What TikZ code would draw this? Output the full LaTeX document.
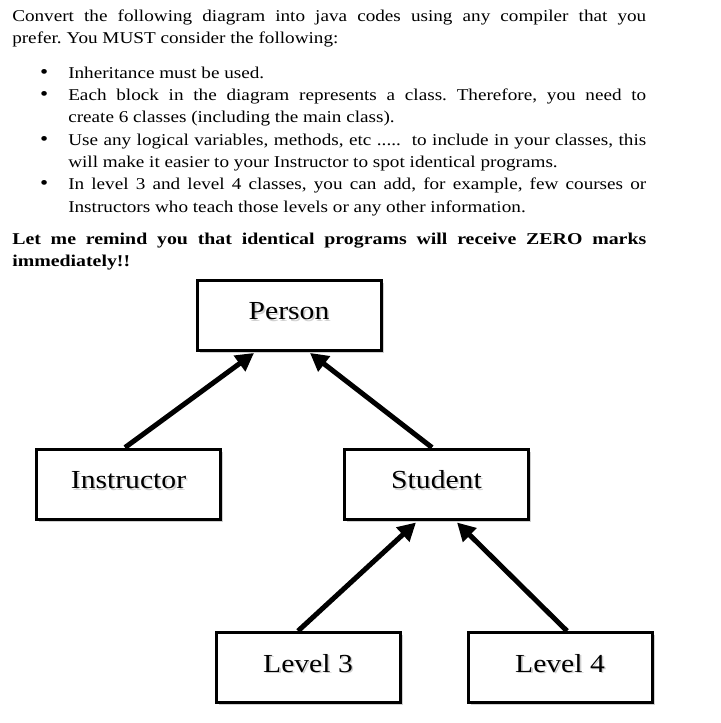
\documentclass[tikz,border=0pt]{standalone}
\usepackage{fontspec}
\usetikzlibrary{arrows.meta,shadows}
\newfontfamily\bodyfont[FakeStretch=1.16,BoldFeatures={FakeStretch=1.2}]{Liberation Serif}
\newfontfamily\labelfont[FakeStretch=1.14]{Liberation Serif}
\newcommand\shtext[1]{\makebox[0pt][l]{\hspace{1.2pt}\raisebox{-1.2pt}{\textcolor{black!18}{#1}}}#1}
\newcommand\bul{\leavevmode\llap{{\fontsize{15pt}{15pt}\selectfont\textbullet}\hspace{15pt}}}
\begin{document}
\begin{tikzpicture}[x=0.75pt,y=-0.75pt,
  classbox/.style={draw=black, line width=2.25pt, fill=white,
    minimum width=138pt, minimum height=52.5pt, inner sep=0pt,
    font={\labelfont\fontsize{19.5pt}{23pt}\selectfont},
    text height=10.5pt, text depth=3.75pt,
    drop shadow={shadow xshift=2.2pt, shadow yshift=-2.2pt, fill=black!30, opacity=0.6}},
  inherit/.style={line width=3.75pt, -{Triangle[length=13.5pt,width=14pt]}},
  bodytext/.style={anchor=north west, inner sep=0pt, text width=475.5pt, align=justify,
    font={\bodyfont\fontsize{12.4pt}{16.7pt}\selectfont}}]
\useasboundingbox (0,0) rectangle (720,723);
\fill[white] (0,0) rectangle (720,723);

\node[bodytext] (instructions) at (12,5.4) {\parindent=0pt\parskip=0pt\frenchspacing\strut Convert the following diagram into java codes using any compiler that you\linebreak prefer. You MUST consider the following:\par
\vspace{9.5pt}
{\leftskip=42pt
\bul Inheritance must be used.\par
\bul Each block in the diagram represents a class. Therefore, you need to\linebreak create 6 classes (including the main class).\par
\bul Use any logical variables, methods, etc .....\ \ to include in your classes, this\linebreak will make it easier to your Instructor to spot identical programs.\par
\bul In level 3 and level 4 classes, you can add, for example, few courses or\linebreak Instructors who teach those levels or any other information.\par}
\vspace{7.5pt}
{\bfseries Let me remind you that identical programs will receive ZERO marks\linebreak immediately!!\par}};

\node[classbox] (person) at (289,315) {\shtext{Person}};
\node[classbox] (instructor) at (128.5,484) {\shtext{Instructor}};
\node[classbox] (student) at (436.5,484) {\shtext{Student}};
\node[classbox] (level3) at (308,667.5) {\shtext{Level 3}};
\node[classbox] (level4) at (560,667.5) {\shtext{Level 4}};

\draw[inherit] ([xshift=-2.6pt]instructor.north) -- ([xshift=-26.25pt,yshift=-1.1pt]person.south);
\draw[inherit] ([xshift=-3.4pt]student.north) -- ([xshift=15.75pt,yshift=-1.1pt]person.south);
\draw[inherit] ([xshift=-7.5pt]level3.north) -- ([xshift=-15.4pt,yshift=-1.5pt]student.south);
\draw[inherit] ([xshift=5.25pt]level4.north) -- ([xshift=15.4pt,yshift=-1.5pt]student.south);
\end{tikzpicture}
\end{document}
